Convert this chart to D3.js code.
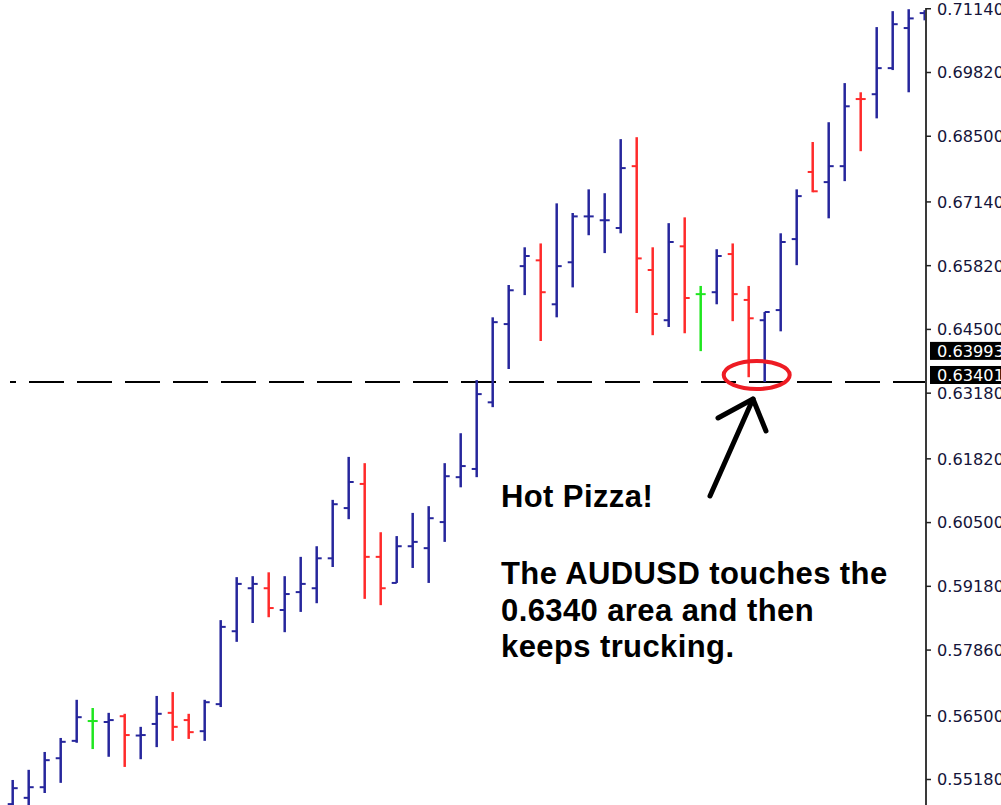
<!DOCTYPE html>
<html><head><meta charset="utf-8">
<script src="https://cdn.jsdelivr.net/npm/d3@7"></script>
<style>html,body{margin:0;padding:0;background:#fff;overflow:hidden}</style>
</head><body>
<svg id="chart" width="1001" height="805"></svg>
<script>
// ---- data ----
const barIndex = [0,1,2,3,4,5,6,7,8,9,10,11,12,13,14,15,16,17,18,19,20,21,22,23,24,25,26,27,28,29,30,31,32,33,34,35,36,37,38,39,40,41,42,43,44,45,46,47,48,49,50,51,52,53,54,55,56,57];
const highs  = [0.5516,0.5537,0.5574,0.5603,0.5682,0.5665,0.5655,0.5653,0.5626,0.5690,0.5698,0.5653,0.5682,0.5847,0.5936,0.5938,0.5946,0.5938,0.5978,0.6000,0.6096,0.6185,0.6172,0.6029,0.6021,0.6069,0.6083,0.6172,0.6234,0.6344,0.6474,0.6541,0.6619,0.6627,0.6710,0.6690,0.6739,0.6731,0.6843,0.6847,0.6619,0.6669,0.6681,0.6539,0.6615,0.6627,0.6539,0.6485,0.6648,0.6739,0.6837,0.6878,0.6959,0.6940,0.7075,0.7108,0.7112,0.7110];
const lows   = [0.5443,0.5450,0.5489,0.5510,0.5593,0.5580,0.5564,0.5543,0.5559,0.5584,0.5597,0.5601,0.5597,0.5667,0.5802,0.5841,0.5853,0.5822,0.5864,0.5882,0.5957,0.6056,0.5891,0.5878,0.5924,0.5955,0.5924,0.6009,0.6122,0.6143,0.6288,0.6367,0.6520,0.6425,0.6474,0.6536,0.6644,0.6607,0.6648,0.6483,0.6437,0.6454,0.6441,0.6404,0.6501,0.6466,0.6350,0.6340,0.6445,0.6582,0.6733,0.6679,0.6756,0.6818,0.6886,0.6986,0.6940,0.7089];
const opens  = [0.5466,0.5479,0.5501,0.5561,0.5597,0.5638,0.5636,0.5648,0.5608,0.5632,0.5655,0.5640,0.5617,0.5673,0.5824,0.5913,0.5913,0.5868,0.5905,0.5913,0.5975,0.6079,0.6129,0.5978,0.5924,0.6000,0.5996,0.6050,0.6143,0.6160,0.6298,0.6460,0.6580,0.6592,0.6501,0.6588,0.6683,0.6675,0.6659,0.6787,0.6572,0.6468,0.6621,0.6522,0.6526,0.6605,0.6510,0.6468,0.6489,0.6636,0.6775,0.6754,0.6787,0.6926,0.6936,0.6990,0.7073,0.7104];
const closes = [0.5499,0.5501,0.5557,0.5595,0.5646,0.5638,0.5640,0.5609,0.5609,0.5653,0.5626,0.5615,0.5677,0.5833,0.5922,0.5922,0.5872,0.5901,0.5922,0.5975,0.6087,0.6133,0.5978,0.5913,0.6000,0.6009,0.6058,0.6145,0.6166,0.6315,0.6464,0.6530,0.6601,0.6526,0.6580,0.6683,0.6683,0.6675,0.6783,0.6596,0.6481,0.6630,0.6514,0.6522,0.6601,0.6522,0.6472,0.6485,0.6630,0.6725,0.6735,0.6787,0.6911,0.6926,0.6990,0.7081,0.7093,0.7108];
// u = up (blue), d = down (red), n = neutral (green)
const kinds  = ["u","u","u","u","u","n","u","d","u","u","d","d","u","u","u","u","d","u","u","u","u","u","d","d","u","u","u","u","u","u","u","u","u","d","u","u","u","u","u","d","d","u","d","n","u","d","d","u","u","u","d","u","u","d","u","u","u","u"];
const tickValues = [0.5518,0.5650,0.5786,0.5918,0.6050,0.6182,0.6318,0.6450,0.6582,0.6714,0.6850,0.6982,0.7114];
const tickLabels = ["0.55180","0.56500","0.57860","0.59180","0.60500","0.61820","0.63180","0.64500","0.65820","0.67140","0.68500","0.69820","0.71140"];
const supportLevel = 0.6340;
const tagValues = [0.63993, 0.63401];
const tagLabels = ["0.63993", "0.63401"];
const noteTitle = "Hot Pizza!";
const noteLines = ["The AUDUSD touches the", "0.6340 area and then", "keeps trucking."];

// ---- drawing ----
const W = 1001, H = 805, axisX = 926;
const svg = d3.select("#chart");
const x = d3.scaleLinear().domain([0, 57]).range([12.7, 924.7]);
const y = d3.scaleLinear().domain([0.5518, 0.6982]).range([779, 72]);
const colour = {u: "#26269c", d: "#ff2a2a", n: "#1fe61f"};

svg.append("defs").append("clipPath").attr("id", "plot")
  .append("rect").attr("x", 0).attr("y", 0).attr("width", axisX).attr("height", H);

const plot = svg.append("g").attr("clip-path", "url(#plot)");

// dashed level line
plot.append("line")
  .attr("x1", 10).attr("x2", axisX)
  .attr("y1", y(supportLevel)).attr("y2", y(supportLevel))
  .attr("stroke", "#000").attr("stroke-width", 2)
  .attr("stroke-dasharray", "35,13").attr("stroke-dashoffset", 29);

const bars = barIndex.map(i => ({i, h: highs[i], l: lows[i], o: opens[i], c: closes[i], k: kinds[i]}));
const g = plot.selectAll("g.bar").data(bars).join("g").attr("class", "bar")
  .attr("stroke", d => colour[d.k]);
g.append("line").attr("x1", d => x(d.i)).attr("x2", d => x(d.i))
  .attr("y1", d => y(d.h)).attr("y2", d => y(d.l)).attr("stroke-width", 2.5);
g.append("line").attr("x1", d => x(d.i) - 5).attr("x2", d => x(d.i))
  .attr("y1", d => y(d.o)).attr("y2", d => y(d.o)).attr("stroke-width", 2);
g.append("line").attr("x1", d => x(d.i)).attr("x2", d => x(d.i) + 5)
  .attr("y1", d => y(d.c)).attr("y2", d => y(d.c)).attr("stroke-width", 2);

// red circle around the touch
plot.append("ellipse")
  .attr("cx", (x(46) + x(47)) / 2).attr("cy", y(supportLevel) - 7)
  .attr("rx", 33).attr("ry", 14)
  .attr("fill", "none").attr("stroke", "#ee1c24").attr("stroke-width", 4);

// arrow
const arrow = svg.append("g").attr("stroke", "#000").attr("stroke-width", 5)
  .attr("stroke-linecap", "round").attr("fill", "none");
arrow.append("path").attr("d", "M710,496 L753,399");
arrow.append("path").attr("d", "M718,418 L753,399 L766,431").attr("stroke-linejoin", "round");

// annotation text
const note = svg.append("g").attr("font-family", "'Liberation Sans', Arial, sans-serif")
  .attr("font-weight", "bold").attr("font-size", 31).attr("fill", "#000")
  .attr("letter-spacing", 0.4);
note.append("text").attr("x", 501).attr("y", 507).text(noteTitle);
noteLines.forEach((t, j) => note.append("text").attr("x", 501).attr("y", 584 + j * 36.5).text(t));

// right price axis
const axis = svg.append("g");
axis.append("line").attr("x1", axisX).attr("x2", axisX).attr("y1", 8).attr("y2", H)
  .attr("stroke", "#3a3a3a").attr("stroke-width", 2);
const yAxis = d3.axisRight(y).tickValues(tickValues).tickSize(5)
  .tickFormat((d, j) => tickLabels[j]);
const ax = axis.append("g").attr("transform", `translate(${axisX},0)`).call(yAxis);
ax.select(".domain").remove();
ax.selectAll(".tick line").attr("stroke", "#222").attr("stroke-width", 1.5);
ax.selectAll(".tick text").attr("x", 11).attr("dy", "0.36em")
  .attr("font-family", "'DejaVu Sans', Verdana, sans-serif").attr("font-size", 16.2)
  .attr("fill", "#15153a");

// price tags
const tagShift = [-2.5, -7];
tagValues.forEach((v, j) => {
  const cy = y(v) + tagShift[j];
  axis.append("rect").attr("x", 930).attr("y", cy - 9).attr("width", 80).attr("height", 18).attr("fill", "#000");
  axis.append("text").attr("x", 937).attr("y", cy).attr("dy", "0.36em")
    .attr("font-family", "'DejaVu Sans', Verdana, sans-serif").attr("font-size", 16.2)
    .attr("fill", "#fff").text(tagLabels[j]);
});
</script>
</body></html>
